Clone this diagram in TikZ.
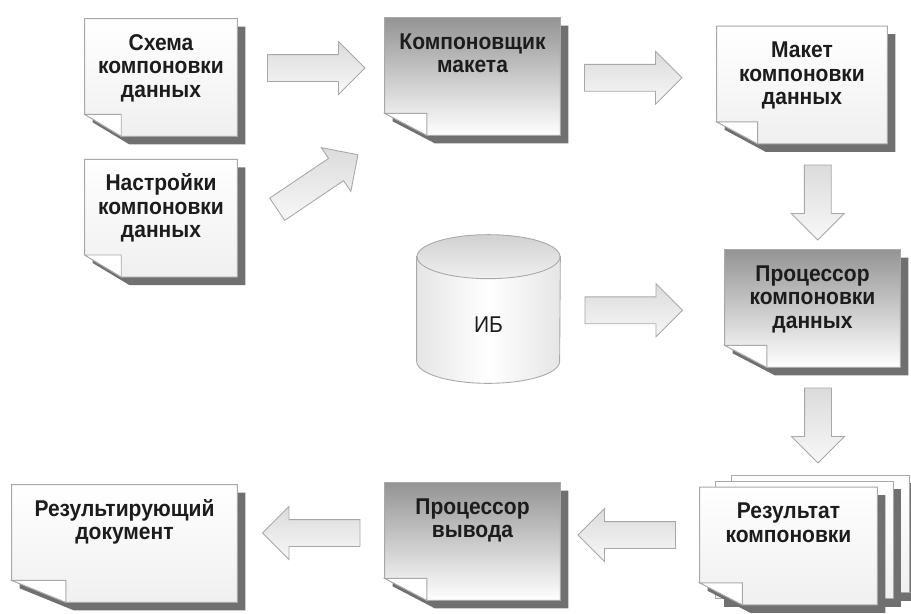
\documentclass[tikz,border=0pt]{standalone}
\usepackage{fontspec}
\setmainfont{Liberation Sans}[FakeStretch=0.92]
\usepackage{tikz}
\usetikzlibrary{shapes.arrows,positioning,calc,backgrounds}
\definecolor{shadowgray}{HTML}{707070}
\definecolor{edgegray}{HTML}{A8A8A8}
\definecolor{inkgray}{HTML}{1C1C1C}

\begin{document}
\begin{tikzpicture}[x=0.02cm,y=-0.02cm,
  font=\fontsize{13pt}{13.4pt}\selectfont\bfseries,text=inkgray,
  docpage/.style={inner sep=0,text width=#1,align=center,text height=0.62cm,text depth=1.72cm},
  lightpage/.style={top color=white,bottom color=black!6},
  darkpage/.style={top color=black!42,bottom color=white},
  pageline/.style={draw=edgegray,line width=0.5pt},
  pageshadow/.style={fill=shadowgray},
  bigarrow/.style={single arrow,draw=edgegray,line width=0.5pt,top color=black!14,bottom color=black!3,
    inner xsep=0,inner ysep=0.26cm,minimum width=1.04cm,single arrow head extend=0.26cm,minimum height=1.95cm}]
\useasboundingbox (0,0) rectangle (911,613);

\node[docpage=3.04cm] (schema) at (161,77.5) {Схема\\компоновки\\данных};
\node[docpage=3.04cm,below=4.6mm of schema] (settings) {Настройки\\компоновки\\данных};
\node[docpage=3.5cm] (layoutgen) at (472.5,76.5) {Компоновщик\\макета};
\node[docpage=3.4cm] (template) at (802,85) {Макет\\компоновки\\данных};
\node[docpage=3.5cm] (processor) at (812.5,308.5) {Процессор\\компоновки\\данных};
\node[inner sep=0,minimum width=2.86cm,text height=1.94cm,text depth=1.02cm,font=\fontsize{13pt}{13.4pt}\selectfont] (db) at (488.5,309) {ИБ};
\node[docpage=3.54cm] (result) at (788.5,546) {Результат\\компоновки};
\node[docpage=3.5cm] (outproc) at (472.5,541.5) {Процессор\\вывода};
\node[docpage=4.5cm] (finaldoc) at (124.5,543.5) {Результирующий\\документ};

% block arrows between the pages
\node[bigarrow] (a1) at ($(schema.east)!.5!(layoutgen.west)+(-1.5,-9)$) {};
\node[bigarrow,rotate=34] (a2) at ($(settings.east)!.5!(layoutgen.south west)+(1,9)$) {};
\node[bigarrow] (a3) at ($(layoutgen.east)!.5!(template.west)+(-12,-3)$) {};
\node[bigarrow,rotate=-90,minimum height=1.5cm] (a4) at ($(template.south)!.5!(processor.north)+(10.5,-1)$) {};
\node[bigarrow] (a5) at ($(db.east)!.5!(processor.west)+(-15.5,1.5)$) {};
\node[bigarrow,rotate=-90,minimum height=1.5cm] (a6) at ($(processor.south)!.5!(result.north)+(17.5,-8.5)$) {};
\node[bigarrow,rotate=180] (a7) at ($(outproc.east)!.5!(result.west)+(3.5,-8.75)$) {};
\node[bigarrow,rotate=180] (a8) at ($(finaldoc.east)!.5!(outproc.west)+(7,-9.5)$) {};

\begin{scope}[on background layer]
% stacked sheets behind the result
\foreach \d in {2,1}{
  \fill[pageshadow] ($(result.north west)+(16*\d+8,-6*\d+8)$) rectangle ($(result.south east)+(16*\d+8,-6*\d+8)$);
  \draw[pageline,lightpage] ($(result.north west)+(16*\d,-6*\d)$) rectangle ($(result.south east)+(16*\d,-6*\d)$);
}
% pages with folded corner
\foreach \n/\s in {schema/lightpage,settings/lightpage,layoutgen/darkpage,template/lightpage,processor/darkpage,result/lightpage,outproc/darkpage,finaldoc/lightpage}{
  \fill[pageshadow] ($(\n.north west)+(8,8)$) -- ($(\n.north east)+(8,8)$) -- ($(\n.south east)+(8,8)$)
    -- ($(\n.south west)!.24!(\n.south east)+(8,8)$) -- ($(\n.south west)+(8,-14)$) -- cycle;
  \draw[pageline,\s] (\n.north west) -- (\n.north east) -- (\n.south east)
    -- ($(\n.south west)!.24!(\n.south east)$) coordinate (f) -- ($(\n.south west)+(0,-22)$) coordinate (l) -- cycle;
  \draw[pageline,fill=white] (l) -- (f |- l) -- (f) -- cycle;
}
% database cylinder
\draw[pageline,left color=black!10,right color=black!10,middle color=white]
  ($(db.north west)+(0,22)$) -- ($(db.south west)+(0,-22)$)
  arc[start angle=180,end angle=360,x radius=1.43cm,y radius=0.44cm] -- ($(db.north east)+(0,22)$) -- cycle;
\draw[pageline,top color=black!18,bottom color=black!6] ($(db.north)+(0,22)$) ellipse[x radius=1.43cm,y radius=0.44cm];
\end{scope}
\end{tikzpicture}
\end{document}
